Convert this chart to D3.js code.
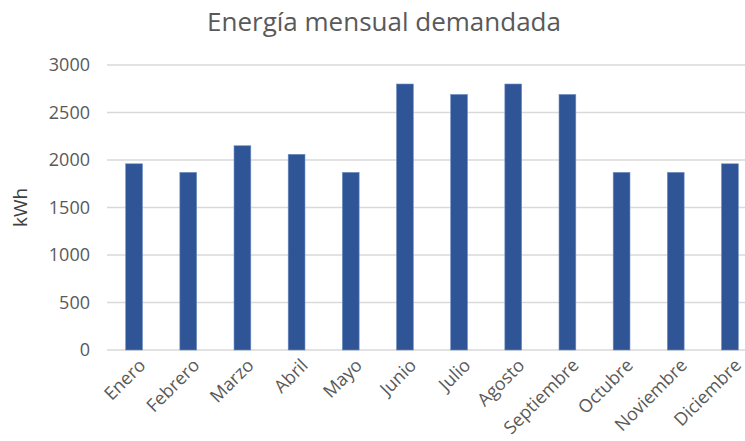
<!DOCTYPE html>
<html>
<head>
<meta charset="utf-8">
<script src="https://cdn.jsdelivr.net/npm/d3@7"></script>
<style>
  html, body { margin: 0; padding: 0; background: #fff; }
  svg { display: block; font-family: "Open Sans", sans-serif; }
</style>
</head>
<body>
<svg id="chart" width="745" height="441"></svg>
<script>
// Monthly demanded energy (kWh)
const months = ["Enero", "Febrero", "Marzo", "Abril", "Mayo", "Junio",
                "Julio", "Agosto", "Septiembre", "Octubre", "Noviembre", "Diciembre"];
const energy = [1960, 1870, 2150, 2060, 1870, 2800, 2690, 2800, 2690, 1870, 1870, 1960];
const yTicks = [0, 500, 1000, 1500, 2000, 2500, 3000];

const svg = d3.select("#chart");
const W = 745, H = 441;
const margin = { top: 65, right: -12, bottom: 91, left: 107 };

const x = d3.scaleBand()
  .domain(months)
  .range([margin.left, W - margin.right])
  .paddingInner(0.69)
  .paddingOuter(0.345);

const y = d3.scaleLinear()
  .domain([0, 3000])
  .range([H - margin.bottom, margin.top]);

// Gridlines
svg.append("g")
  .selectAll("line")
  .data(yTicks)
  .join("line")
  .attr("x1", margin.left)
  .attr("x2", W)
  .attr("y1", d => y(d))
  .attr("y2", d => y(d))
  .attr("stroke", "#d9d9d9")
  .attr("stroke-width", 1.5);

// Y axis labels
const yAxis = d3.axisLeft(y).tickValues(yTicks).tickFormat(d3.format("d")).tickSize(0).tickPadding(0);
svg.append("g")
  .attr("transform", `translate(${margin.left - 17},0)`)
  .call(yAxis)
  .call(g => g.select(".domain").remove())
  .call(g => g.selectAll("text")
    .attr("fill", "#595959")
    .style("font-size", "18px")
    .style("font-family", "'Open Sans', sans-serif"));

// Bars
svg.append("g")
  .selectAll("rect")
  .data(months.map((m, i) => ({ m, v: energy[i] })))
  .join("rect")
  .attr("x", d => x(d.m))
  .attr("y", d => y(d.v))
  .attr("width", x.bandwidth())
  .attr("height", d => y(0) - y(d.v))
  .attr("fill", "#2f5597")
  .attr("stroke", "#6f8fc4")
  .attr("stroke-width", 0.6);

// X axis labels (rotated)
const xAxis = d3.axisBottom(x).tickSize(0).tickPadding(0);
svg.append("g")
  .attr("transform", `translate(0,${y(0)})`)
  .call(xAxis)
  .call(g => g.select(".domain").remove())
  .call(g => g.selectAll("text")
    .attr("fill", "#595959")
    .style("font-size", "18px")
    .style("font-family", "'Open Sans', sans-serif")
    .attr("text-anchor", "end")
    .attr("dy", "0.35em")
    .attr("transform", "translate(8,12) rotate(-45)"));

// Axis title
svg.append("text")
  .attr("transform", `translate(27,${(y(0) + y(3000)) / 2}) rotate(-90)`)
  .attr("text-anchor", "middle")
  .attr("fill", "#404040")
  .style("font-size", "19px")
  .text("kWh");

// Chart title
svg.append("text")
  .attr("x", 384)
  .attr("y", 31)
  .attr("text-anchor", "middle")
  .attr("fill", "#595959")
  .style("font-size", "26px")
  .text("Energía mensual demandada");
</script>
</body>
</html>
